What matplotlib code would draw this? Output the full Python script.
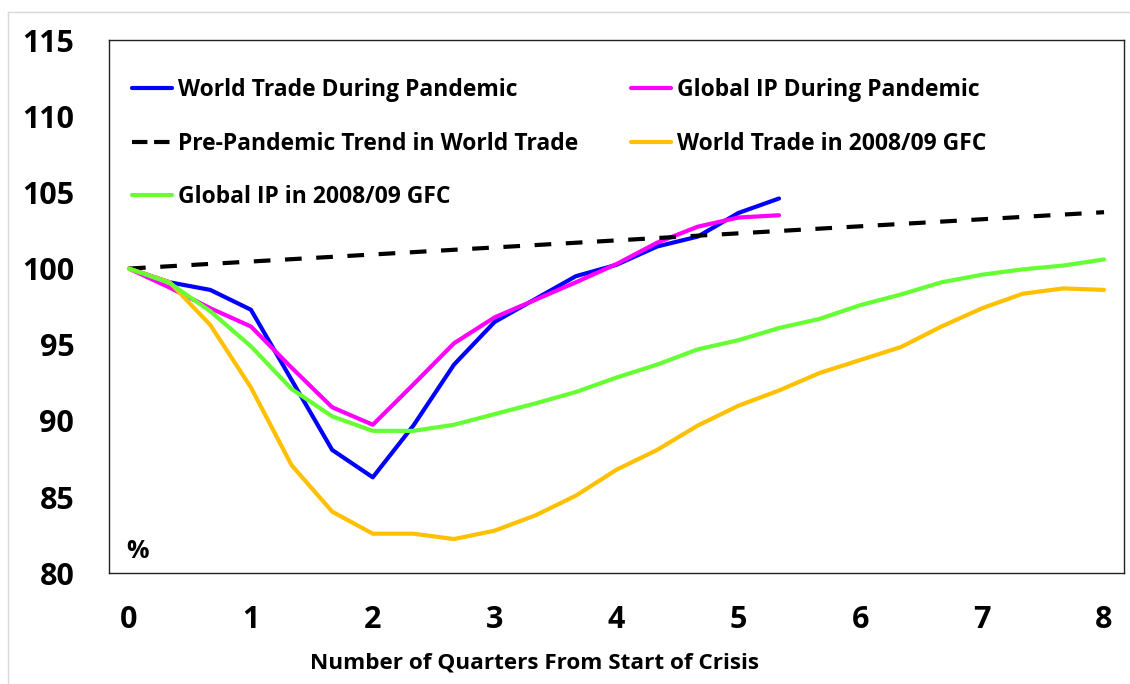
import numpy as np
import matplotlib.pyplot as plt
from matplotlib.lines import Line2D

plt.rcParams['font.family'] = ['Open Sans', 'DejaVu Sans']
plt.rcParams['font.weight'] = 'bold'

# monthly index values (start of crisis = 100), x in quarters
world_trade_pandemic = [100, 99.1, 98.6, 97.3, 92.7, 88.1, 86.3, 89.7, 93.7, 96.5,
                        98.0, 99.5, 100.25, 101.45, 102.1, 103.65, 104.6]
global_ip_pandemic = [100, 98.75, 97.4, 96.2, 93.5, 90.9, 89.75, 92.4, 95.1, 96.8,
                      97.95, 99.1, 100.3, 101.7, 102.75, 103.35, 103.5]
world_trade_gfc = [100, 99.1, 96.3, 92.2, 87.1, 84.05, 82.6, 82.6, 82.25, 82.8,
                   83.8, 85.1, 86.8, 88.1, 89.7, 91.0, 92.0, 93.15, 94.0, 94.85,
                   96.2, 97.4, 98.35, 98.7, 98.6]
global_ip_gfc = [100, 99.05, 97.2, 94.9, 92.1, 90.3, 89.35, 89.35, 89.75, 90.45,
                 91.15, 91.9, 92.85, 93.7, 94.7, 95.3, 96.1, 96.7, 97.6, 98.3,
                 99.1, 99.6, 99.95, 100.2, 100.6]
trend_x = [0, 8]
trend_y = [100, 103.7]

x_ticks = [0, 1, 2, 3, 4, 5, 6, 7, 8]
y_ticks = [80, 85, 90, 95, 100, 105, 110, 115]


def quarters(series):
    return np.arange(len(series)) / 3.0


fig = plt.figure(figsize=(11.3, 6.84), dpi=100)
ax = fig.add_axes([0.0965, 0.1618, 0.8982, 0.7797])

lw = 3.0
ax.plot(quarters(world_trade_pandemic), world_trade_pandemic, color='#0000FF', lw=lw,
        solid_capstyle='round', label='World Trade During Pandemic')
ax.plot(quarters(global_ip_pandemic), global_ip_pandemic, color='#FF00FF', lw=lw,
        solid_capstyle='round', label='Global IP During Pandemic')
ax.plot(trend_x, trend_y, color='black', lw=lw, linestyle=(0, (4, 3.5)),
        label='Pre-Pandemic Trend in World Trade')
ax.plot(quarters(world_trade_gfc), world_trade_gfc, color='#FFC000', lw=lw,
        solid_capstyle='round', label='World Trade in 2008/09 GFC')
ax.plot(quarters(global_ip_gfc), global_ip_gfc, color='#66FF33', lw=lw,
        solid_capstyle='round', label='Global IP in 2008/09 GFC')

ax.set_xlim(-0.164, 8.164)
ax.set_ylim(80, 115)
ax.set_xticks(x_ticks)
ax.set_yticks(y_ticks)
ax.tick_params(axis='both', length=0, labelsize=22)
ax.tick_params(axis='y', pad=25)
ax.tick_params(axis='x', pad=23)
for s in ax.spines.values():
    s.set_linewidth(1.0)
    s.set_color('#222222')

ax.text(-0.02, 81.0, '%', fontsize=18, fontweight='bold')

# legend laid out row-wise in two columns
h = {l.get_label(): l for l in ax.get_lines()}
order = ['World Trade During Pandemic', 'Pre-Pandemic Trend in World Trade',
         'Global IP in 2008/09 GFC', 'Global IP During Pandemic',
         'World Trade in 2008/09 GFC']
handles = [Line2D([], [], color=h[k].get_color(), lw=lw, linestyle=h[k].get_linestyle(),
                  solid_capstyle='round') for k in order]
ax.legend(handles, order, ncol=2, loc='upper left', bbox_to_anchor=(0.0227, 0.9285),
          frameon=False, fontsize=16.5, handlelength=1.75, handletextpad=0.26,
          labelspacing=1.29, columnspacing=2.31, borderpad=0, borderaxespad=0)

fig.text(534 / 1130, 1 - 663 / 684, 'Number of Quarters From Start of Crisis',
         ha='center', va='center', fontsize=16.2, fontweight='bold')

# light outer border
fig.add_artist(Line2D([8 / 1130, 8 / 1130], [0, 1 - 12 / 684], color='#D9D9D9', lw=1))
fig.add_artist(Line2D([8 / 1130, 1], [1 - 12 / 684, 1 - 12 / 684], color='#D9D9D9', lw=1))

fig.savefig('out.png', dpi=100)
